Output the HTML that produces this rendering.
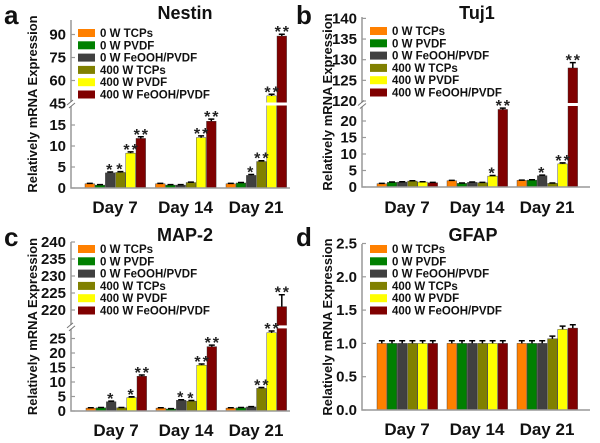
<!DOCTYPE html>
<html><head><meta charset="utf-8">
<style>
html,body{margin:0;padding:0;background:#fff;}
svg{display:block;font-family:"Liberation Sans",Arial,sans-serif;font-weight:bold;}
</style></head>
<body>
<svg id="fig" width="600" height="443" viewBox="0 0 600 443"></svg>
<script>
const seriesNames = ["0 W TCPs","0 W PVDF","0 W FeOOH/PVDF","400 W TCPs","400 W PVDF","400 W FeOOH/PVDF"];
const seriesColors = ["#FF8000","#008000","#404040","#808000","#FFFF00","#800000"];
const days = ["Day 7","Day 14","Day 21"];

const nestinValues = [[1.0,0.7,3.6,3.7,8.3,11.8],[1.0,0.7,0.7,1.3,12.0,15.9],[1.0,1.2,3.0,6.3,50,89]];
const nestinErrors = [[0.1,0.1,0.2,0.2,0.3,0.4],[0.1,0.1,0.1,0.1,0.4,0.5],[0.1,0.1,0.2,0.2,1,1.2]];
const nestinStars = [["","","*","*","**","**"],["","","","","**","**"],["","","*","**","**","**"]];
const nestinLowTicks = [0,5,10,15];
const nestinHighTicks = [45,60,75,90];

const tujValues = [[1.0,1.4,1.5,1.8,1.5,1.3],[1.9,1.1,1.4,1.3,3.3,23.5],[2.0,2.1,3.4,1.1,7.0,128]];
const tujErrors = [[0.1,0.1,0.1,0.1,0.1,0.1],[0.1,0.1,0.1,0.1,0.2,0.4],[0.1,0.1,0.2,0.1,0.3,1.3]];
const tujStars = [["","","","","",""],["","","","","*","**"],["","","*","","**","**"]];
const tujLowTicks = [0,5,10,15,20];
const tujHighTicks = [120,125,130,135,140];

const mapValues = [[1.0,1.1,3.2,1.1,4.6,12],[1.0,0.7,3.7,3.4,15.8,22.2],[1.0,1.1,1.4,7.8,27,221]];
const mapErrors = [[0.1,0.1,0.2,0.1,0.3,0.4],[0.1,0.1,0.2,0.2,0.4,0.5],[0.1,0.1,0.1,0.3,0.6,3.5]];
const mapStars = [["","","*","","*","**"],["","","*","*","**","**"],["","","","**","**","**"]];
const mapLowTicks = [0,5,10,15,20,25];
const mapHighTicks = [220,225,230,235,240];

const gfapValues = [[1,1,1,1,1,1],[1,1,1,1,1,1],[1.0,1.0,1.0,1.07,1.21,1.23]];
const gfapErrors = [[0.04,0.04,0.04,0.04,0.04,0.04],[0.04,0.04,0.04,0.04,0.04,0.04],[0.04,0.04,0.04,0.04,0.05,0.05]];
const gfapStars = [["","","","","",""],["","","","","",""],["","","","","",""]];
const gfapTicks = ["0.0","0.5","1.0","1.5","2.0","2.5"];

const NS="http://www.w3.org/2000/svg";
const svg=document.getElementById('fig');
function mk(tag,attrs,parent){const e=document.createElementNS(NS,tag);for(const k in attrs)e.setAttribute(k,attrs[k]);(parent||svg).appendChild(e);return e;}

function panel(o){
  const g=mk('g',{});
  
  
  const y=v=>{
    if(!o.brk) return o.base - v*o.k1;
    if(v<=o.lowHi) return o.base - v*o.k1;
    return o.upY - (v-o.upLo)*o.k2;
  };
  const breakY = o.brk ? o.base - o.lowHi*o.k1 : null;
  const step=10.2, bw=9.6;
  const starList=[];
  o.values.forEach((grp,gi)=>{
    const gx=o.gx0+gi*o.gStep;
    grp.forEach((v,si)=>{
      const x=gx+si*step;
      const yt=y(v);
      const r=mk('rect',{x:x,y:yt,width:bw,height:o.base-yt,fill:seriesColors[si],stroke:'#333','stroke-width':0.4},g);
      
      
      const e=o.errors[gi][si];
      const ye=y(v+e);
      const cx=x+bw/2;
      const eb=mk('path',{d:`M${cx},${yt}V${ye}M${cx-3},${ye}H${cx+3}`,stroke:'#000','stroke-width':1.5,fill:'none'},g);
      
      
      const s=o.stars[gi][si];
      if(s) starList.push([cx,ye,s]);
    });
  });
  if(o.brk){
    mk('rect',{x:o.ax+1,y:breakY-1.5,width:o.axEnd-o.ax,height:3,fill:'#fff'},g);
  }
  starList.forEach(([cx,ye,s])=>{
    const t=mk('text',{x:cx+(s.length>1?1:0),y:ye+3,'text-anchor':'middle','font-size':16,fill:'#222','letter-spacing':2},g);
    t.textContent=s;
    
    
  });
  const ax=mk('path',{d:`M${o.ax},${o.top}V${o.base}H${o.axEnd}`,stroke:'#999','stroke-width':1.5,fill:'none'},g);
  
  
  const tickVals=o.brk?o.lowTicks.concat(o.highTicks):o.ticks.map(Number);
  const tickLbl=o.brk?tickVals.map(String):o.ticks;
  tickVals.forEach((v,i)=>{
    const ty=y(v);
    mk('line',{x1:o.ax,x2:o.ax+4,y1:ty,y2:ty,stroke:'#999','stroke-width':1.2},g);
    const t=mk('text',{x:o.ax-5,y:ty+5,'text-anchor':'end','font-size':15,fill:'#111'},g);
    t.textContent=tickLbl[i];
    
    
  });
  if(o.brk){
    mk('rect',{x:o.ax-4,y:breakY-2,width:8,height:4,fill:'#fff'},g);
    mk('path',{d:`M${o.ax-4},${breakY+1}L${o.ax+2},${breakY-4}M${o.ax-2},${breakY+4}L${o.ax+4},${breakY-1}`,stroke:'#777','stroke-width':1},g);
  }
  days.forEach((d,gi)=>{
    const t=mk('text',{x:o.gx0+gi*o.gStep+30,y:o.dayY,'text-anchor':'middle','font-size':17,fill:'#111'},g);
    t.textContent=d;
    
    
  });
  const tt=mk('text',{x:o.titleX,y:o.titleY,'text-anchor':'middle','font-size':18,fill:'#111'},g);
  tt.textContent=o.title;
  
  
  const pl=mk('text',{x:o.letX,y:o.letY,'font-size':26,fill:'#111'},g);
  pl.textContent=o.letter;
  
  
  const yl=mk('text',{x:0,y:0,'text-anchor':'middle','font-size':13,fill:'#111',transform:`translate(${o.ylX},${(o.top+o.base)/2}) rotate(-90)`},g);
  yl.textContent='Relatively mRNA Expression';
  
  
  seriesNames.forEach((n,i)=>{
    const ly=o.legY+i*12.3;
    const le=mk('g',{},g);
    
    
    mk('rect',{x:o.legX,y:ly-4,width:17,height:8,fill:seriesColors[i]},le);
    const t=mk('text',{x:o.legX+22,y:ly+4,'font-size':11.5,fill:'#111'},le);
    t.textContent=n;
  });
}

panel({name:'nestin',title:'Nestin',letter:'a',values:nestinValues,errors:nestinErrors,stars:nestinStars,
  brk:true,base:188,k1:4.2,lowHi:20,upY:103.5,upLo:45,k2:1.533,top:20,lowTicks:nestinLowTicks,highTicks:nestinHighTicks,
  ax:71,axEnd:290,gx0:85,gStep:70.5,dayY:213,titleX:185,titleY:19,letX:4,letY:24,ylX:37,legX:78,legY:33});
panel({name:'tuj1',title:'Tuj1',letter:'b',values:tujValues,errors:tujErrors,stars:tujStars,
  brk:true,base:187,k1:3.3,lowHi:25,upY:101,upLo:120,k2:4.13,top:17,lowTicks:tujLowTicks,highTicks:tujHighTicks,
  ax:362,axEnd:590,gx0:377,gStep:70,dayY:213,titleX:477,titleY:19,letX:296,letY:24,ylX:332,legX:370,legY:31});
panel({name:'map2',title:'MAP-2',letter:'c',values:mapValues,errors:mapErrors,stars:mapStars,
  brk:true,base:411,k1:2.9,lowHi:29,upY:310,upLo:220,k2:3.4,top:242,lowTicks:mapLowTicks,highTicks:mapHighTicks,
  ax:71,axEnd:290,gx0:86,gStep:70,dayY:436,titleX:185,titleY:241,letX:4,letY:246,ylX:37,legX:78,legY:249});
panel({name:'gfap',title:'GFAP',letter:'d',values:gfapValues,errors:gfapErrors,stars:gfapStars,
  brk:false,base:410,k1:66.6,top:244,ticks:gfapTicks,
  ax:362,axEnd:590,gx0:377,gStep:70,dayY:435,titleX:473,titleY:241,letX:296,letY:246,ylX:332,legX:370,legY:249});
</script>
</body></html>
